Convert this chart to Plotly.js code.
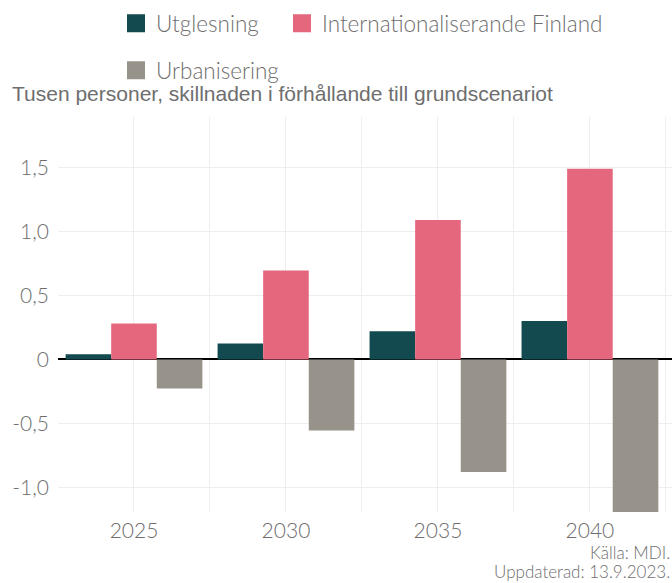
<!DOCTYPE html>
<html><head><meta charset="utf-8">
<script src="https://cdn.plot.ly/plotly-3.0.1.min.js"></script>
<style>body{margin:0;background:#fff}#chart{width:672px;height:583px}</style>
</head><body><div id="chart"></div>
<script>
const years = [2025, 2030, 2035, 2040];
const utglesning = [0.04, 0.125, 0.22, 0.30];
const internationaliserande = [0.28, 0.695, 1.09, 1.49];
const urbanisering = [-0.227, -0.555, -0.88, -1.21];
const seriesNames = ['Utglesning', 'Internationaliserande Finland', 'Urbanisering'];
const seriesValues = [utglesning, internationaliserande, urbanisering];
const colors = ['#124a4f', '#e5677e', '#97938b'];
const yTickVals = [-1, -0.5, 0, 0.5, 1, 1.5];
const yTickText = ['-1,0', '-0,5', '0', '0,5', '1,0', '1,5'];
const titleText = 'Tusen personer, skillnaden i förhållande till grundscenariot';
const sources = ['Källa: MDI.', 'Uppdaterad: 13.9.2023.'];

const textColor = '#6e6e6e';
const lightFont = {family: 'Lato, "Open Sans", sans-serif', weight: 300, color: textColor};
const gridColor = '#eeeeee';
const legendIds = ['legend', 'legend2', 'legend3'];
// legend item anchor positions (px in the 672x583 page)
const legendPos = [[116, 2], [282, 2], [116, 49]];
const sourceCenters = [552, 571];

const traces = [];
seriesNames.forEach((name, i) => {
  traces.push({
    type: 'bar', x: years, y: seriesValues[i], name: name,
    marker: {color: colors[i]}, showlegend: false,
    hoverinfo: 'x+y+name'
  });
});
seriesNames.forEach((name, i) => {
  traces.push({
    type: 'scatter', mode: 'markers', x: [null], y: [null], name: name,
    legend: legendIds[i], hoverinfo: 'skip',
    marker: {symbol: 'square', size: 16, color: colors[i], line: {width: 2, color: colors[i]}}
  });
});

const layout = {
  width: 672, height: 583,
  paper_bgcolor: '#fff', plot_bgcolor: '#fff',
  margin: {l: 58, r: 0, t: 117, b: 71},
  barmode: 'group', bargap: 0.1, bargroupgap: 0,
  title: {
    text: titleText,
    font: {family: '"Liberation Sans", Arial, sans-serif', size: 21, color: textColor},
    x: 12 / 672, xanchor: 'left', xref: 'container',
    y: 1 - 94 / 583, yanchor: 'middle', yref: 'container'
  },
  xaxis: {
    range: [2022.5, 2042.7], tickmode: 'linear', tick0: 2025, dtick: 5,
    showgrid: true, gridcolor: gridColor, gridwidth: 1,
    minor: {tick0: 2022.5, dtick: 2.5, showgrid: true, gridcolor: gridColor, gridwidth: 1},
    zeroline: false, showline: false, ticks: '', ticklabelstandoff: 4,
    tickfont: Object.assign({size: 21}, lightFont), fixedrange: true
  },
  yaxis: {
    range: [-1.193, 1.895], tickmode: 'array', tickvals: yTickVals, ticktext: yTickText,
    showgrid: true, gridcolor: gridColor, gridwidth: 1,
    zeroline: true, zerolinecolor: '#000', zerolinewidth: 1.5,
    showline: false, ticks: '', ticklabelstandoff: 8,
    tickfont: Object.assign({size: 21}, lightFont), fixedrange: true
  },
  annotations: sources.map((s, i) => ({
    text: s, xref: 'paper', yref: 'paper', x: 1, xanchor: 'right', xshift: 0,
    y: -(sourceCenters[i] - 512) / 395, yanchor: 'middle', showarrow: false,
    font: Object.assign({size: 17}, lightFont), align: 'right'
  }))
};
legendIds.forEach((id, i) => {
  layout[id] = {
    orientation: 'h', xref: 'container', yref: 'container',
    x: legendPos[i][0] / 672, xanchor: 'left',
    y: 1 - legendPos[i][1] / 583, yanchor: 'top',
    font: Object.assign({size: 22.5}, lightFont), itemclick: false, itemdoubleclick: false
  };
});

Plotly.newPlot('chart', traces, layout, {displayModeBar: false});
</script>
</body></html>
